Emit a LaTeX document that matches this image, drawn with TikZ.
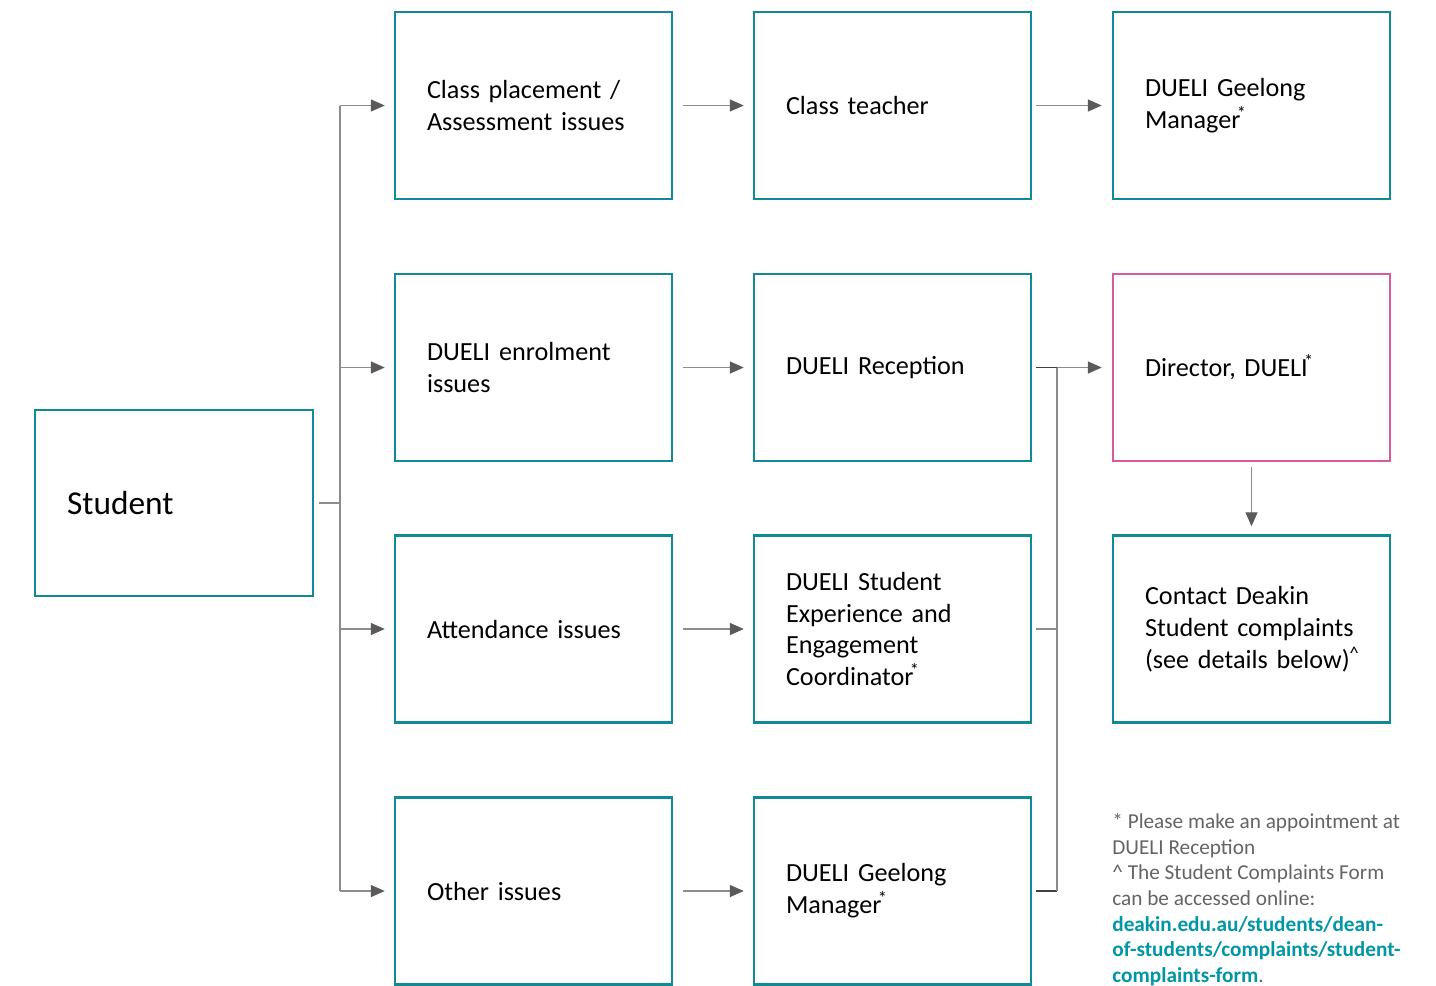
\documentclass[tikz,border=0pt]{standalone}
\usepackage{fontspec}
\setmainfont{Carlito}
\usetikzlibrary{arrows.meta,positioning}
\definecolor{boxteal}{RGB}{18,138,150}
\definecolor{boxpink}{RGB}{214,90,160}
\definecolor{linegray}{RGB}{140,140,140}
\definecolor{tipgray}{RGB}{90,90,90}
\definecolor{notegray}{RGB}{100,100,100}
\definecolor{linkteal}{RGB}{0,150,165}
\newcommand\starnote{\textsuperscript{\kern-0.2em*}}

\begin{document}
\begin{tikzpicture}[x=0.02cm, y=-0.02cm,
  box/.style={draw=boxteal, line width=0.05cm, minimum height=3.74cm, text width=4.26cm,
    inner xsep=0.64cm, inner ysep=0pt, align=left, font=\fontsize{14.9}{18.2}\selectfont},
  link/.style={draw=linegray, line width=0.8pt},
  arr/.style={link, -{Triangle[length=0.28cm,width=0.24cm,color=tipgray]}}]

\useasboundingbox (0,0) rectangle (1436,985);

% Student (left)
\node[box, text width=4.28cm, minimum height=3.72cm, font=\fontsize{19}{24}\selectfont] (student) at (174,503) {Student};

% Issues (first column)
\node[box] (placement) at (533.5,105.5) {Class placement /\\Assessment issues};
\node[box] (enrolment) at (533.5,367.5) {DUELI enrolment\\issues};
\node[box] (attendance) at (533.5,629) {Attendance issues};
\node[box] (other) at (533.5,891) {Other issues};

% Contacts (second column)
\node[box] (teacher) at (892.5,105.5) {Class teacher};
\node[box] (reception) at (892.5,367.5) {DUELI Reception};
\node[box] (coordinator) at (892.5,629) {DUELI Student\\Experience and\\Engagement\\Coordinator\starnote};
\node[box] (gmanager) at (892.5,891) {DUELI Geelong\\Manager\starnote};

% Escalation (third column)
\node[box] (manager) at (1251.5,105.5) {DUELI Geelong\\Manager\starnote};
\node[box, draw=boxpink] (director) at (1251.5,367.5) {Director, DUELI\starnote};
\node[box] (complaints) at (1251.5,629) {Contact Deakin\\\mbox{Student complaints}\\\mbox{(see details below)\textsuperscript{\textasciicircum}}};

% Trunk from student
\coordinate (trunk) at (340,503);
\draw[link, shorten <=0.1cm] (student.east) -- (trunk);
\draw[link] (trunk |- placement.west) -- (trunk |- other.west);
\foreach \n in {placement,enrolment,attendance,other}
  \draw[arr, shorten >=0.18cm] (trunk |- \n.west) -- (\n.west);

% Issues to contacts
\draw[arr, shorten <=0.2cm, shorten >=0.18cm] (placement) -- (teacher);
\draw[arr, shorten <=0.2cm, shorten >=0.18cm] (enrolment) -- (reception);
\draw[arr, shorten <=0.2cm, shorten >=0.18cm] (attendance) -- (coordinator);
\draw[arr, shorten <=0.2cm, shorten >=0.18cm] (other) -- (gmanager);

% Contacts to escalation
\draw[arr, shorten <=0.08cm, shorten >=0.2cm] (teacher) -- (manager);
\coordinate (merge) at (1057,367.5);
\draw[link, draw=black!75, shorten <=0.08cm] (reception.east) -- (merge);
\draw[link, shorten <=0.08cm] (coordinator.east) -- (merge |- coordinator.east);
\draw[link, draw=black!75, shorten <=0.08cm] (gmanager.east) -- (merge |- gmanager.east);
\draw[link] (merge) -- (merge |- gmanager.east);
\draw[arr, shorten >=0.2cm] (merge) -- (director.west);
\draw[arr, shorten <=0.1cm, shorten >=0.16cm] (director) -- (complaints);

% Notes
\node[anchor=north west, inner sep=0pt, align=left, text=notegray,
  font=\fontsize{12.1}{14.6}\selectfont] (notes) at (1112,813)
  {* Please make an appointment at\\DUELI Reception\\\textasciicircum{} The Student Complaints Form\\can be accessed online:\\
   \textcolor{linkteal}{\bfseries deakin.edu.au/students/dean-}\\
   \textcolor{linkteal}{\bfseries of-students/complaints/student-}\\
   \textcolor{linkteal}{\bfseries complaints-form}.};

\end{tikzpicture}
\end{document}
